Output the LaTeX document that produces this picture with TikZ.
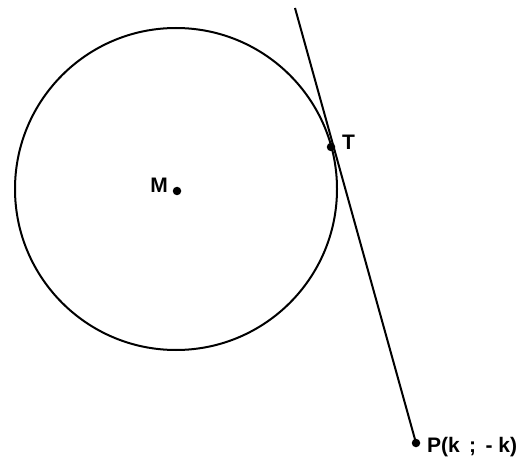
\documentclass[tikz,border=0pt]{standalone}
\usepackage{fontspec}
\setmainfont{Liberation Sans}
\usepackage{tikz}
\usetikzlibrary{
  positioning,
  calc
}
\definecolor{linecolor}{RGB}{0, 0, 0}
\definecolor{labelcolor}{RGB}{0, 0, 0}
\tikzset{
dotpoint/.style={
  circle,
  fill=linecolor,
  inner sep=0pt,
  minimum size=8.5pt
},
ptlabel/.style={
  font=\bfseries\fontsize{21}{25}\selectfont,
  text=labelcolor,
  inner sep=0pt
},
curveline/.style={
  draw=linecolor,
  line width=2pt
},
tangentline/.style={
  draw=linecolor,
  line width=2pt
}
}
\begin{document}
\begin{tikzpicture}[x=1pt, y=-1pt]
      \useasboundingbox (0,0) rectangle (519,457);
      % Circle
      \node[circle, curveline, minimum size=322pt, inner sep=0pt] (circ) at (176,189) {};
      % Points
      \node[dotpoint] (M) at (177,191) {};
      \node[dotpoint] (T) at (331,147) {};
      \node[dotpoint] (P) at (416,443) {};
      \coordinate (top) at (295,8);
      % Tangent
      \draw[tangentline] (top) -- (P.center);
      % Labels
      \node[ptlabel, anchor=base east] (Mlab) at ($(M.center)+(-9,2)$) {M};
      \node[ptlabel, anchor=base west] (Tlab) at ($(T.center)+(11,3)$) {T};
      \node[ptlabel, anchor=base west] (Plab) at ($(P.center)+(11,9)$) {P(k\, ; \,- k)};
    \end{tikzpicture}
\end{document}
